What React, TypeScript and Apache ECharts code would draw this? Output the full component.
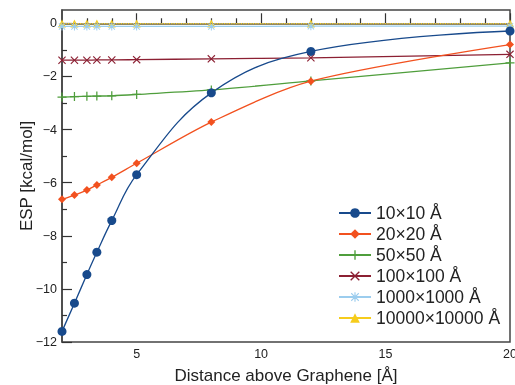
import React, { useEffect, useRef } from "react";
import * as echarts from "echarts";

const distances = [2, 2.5, 3, 3.4, 4, 5, 8, 12, 20];
const s10 = [-11.6, -10.54, -9.46, -8.62, -7.43, -5.7, -2.62, -1.06, -0.29];
const s20 = [-6.63, -6.47, -6.28, -6.09, -5.8, -5.27, -3.72, -2.18, -0.8];
const s50 = [-2.78, -2.76, -2.75, -2.74, -2.73, -2.68, -2.51, -2.17, -1.49];
const s100 = [-1.39, -1.39, -1.39, -1.38, -1.38, -1.37, -1.34, -1.3, -1.17];
const s1000 = [-0.12, -0.12, -0.12, -0.12, -0.12, -0.12, -0.12, -0.11, -0.11];
const s10000 = [-0.01, -0.01, -0.01, -0.01, -0.01, -0.01, -0.01, -0.01, -0.01];

const seriesNames = ["10×10 Å", "20×20 Å", "50×50 Å", "100×100 Å", "1000×1000 Å", "10000×10000 Å"];
const xMajorTicks = [5, 10, 15, 20];
const xMinorTicks = [3, 4, 6, 7, 8, 9, 11, 12, 13, 14, 16, 17, 18, 19];
const yMajorTicks = [-12, -10, -8, -6, -4, -2, 0];
const yMinorTicks = [-11, -9, -7, -5, -3, -1];

const FONT = "'Liberation Sans', Arial, Helvetica, sans-serif";

const PLUS = "path://M4.3,0H5.7V4.3H10V5.7H5.7V10H4.3V5.7H0V4.3H4.3Z";
const CROSS = "path://M1,0L5,4L9,0L10,1L6,5L10,9L9,10L5,6L1,10L0,9L4,5L0,1Z";
const STAR =
  "path://M4.4,0H5.6V4.4H10V5.6H5.6V10H4.4V5.6H0V4.4H4.4Z M1.5,0.7L5,4.2L8.5,0.7L9.3,1.5L5.8,5L9.3,8.5L8.5,9.3L5,5.8L1.5,9.3L0.7,8.5L4.2,5L0.7,1.5Z";

export default function App() {
  const ref = useRef<HTMLDivElement>(null);
  useEffect(() => {
    if (!ref.current) return;
    const chart = echarts.init(ref.current, undefined, { renderer: "svg" });
    const pair = (ys: number[]) => distances.map((x, i) => [x, ys[i]]);
    const fmt = (v: number) => (v < 0 ? "−" + Math.abs(v) : String(v));
    const mk = (
      name: string,
      ys: number[],
      color: string,
      symbol: string,
      symbolSize: number,
      smooth: number | boolean,
      extra: any = {}
    ) => ({
      name,
      type: "line",
      data: pair(ys),
      xAxisIndex: 0,
      yAxisIndex: 0,
      smooth,
      symbol,
      symbolSize,
      showAllSymbol: true,
      clip: true,
      lineStyle: { color, width: 1.3 },
      itemStyle: { color, borderWidth: 0 },
      ...extra,
    });
    const axisLineStyle = { color: "#444", width: 1.5 };
    const tickStyle = { color: "#333", width: 1.2 };
    const gridRect = {
      left: 62,
      right: 5,
      top: 10,
      bottom: 43,
      outerBoundsMode: "none",
      containLabel: false,
    };
    chart.setOption({
      animation: false,
      textStyle: { fontFamily: FONT },
      grid: [
        { ...gridRect, show: true, borderColor: "#444", borderWidth: 1.5, backgroundColor: "transparent" },
        { ...gridRect, show: false },
      ],
      legend: {
        orient: "vertical",
        left: 338,
        top: 204,
        itemWidth: 32,
        itemHeight: 12,
        itemGap: 3,
        padding: 0,
        textStyle: { fontSize: 17.5, color: "#222", fontFamily: FONT },
        data: seriesNames,
      },
      xAxis: [
        {
          type: "value",
          gridIndex: 0,
          min: 2,
          max: 20,
          position: "bottom",
          axisLine: { show: true, lineStyle: axisLineStyle },
          axisTick: { show: true, inside: true, length: 10, customValues: xMajorTicks, lineStyle: tickStyle },
          axisLabel: { show: true, customValues: xMajorTicks, fontSize: 12.5, color: "#222", margin: 5, formatter: fmt },
          splitLine: { show: false },
          name: "Distance above Graphene [Å]",
          nameLocation: "middle",
          nameGap: 25,
          nameMoveOverlap: false,
          nameTextStyle: { fontSize: 17, color: "#222", fontFamily: FONT },
        },
        {
          type: "value",
          gridIndex: 1,
          min: 2,
          max: 20,
          position: "bottom",
          axisLine: { show: false },
          axisTick: { show: true, inside: true, length: 5, customValues: xMinorTicks, lineStyle: tickStyle },
          axisLabel: { show: false },
          splitLine: { show: false },
        },
      ],
      yAxis: [
        {
          type: "value",
          gridIndex: 0,
          min: -12,
          max: 0.5,
          position: "left",
          axisLine: { show: true, lineStyle: axisLineStyle },
          axisTick: { show: true, inside: true, length: 10, customValues: yMajorTicks, lineStyle: tickStyle },
          axisLabel: { show: true, customValues: yMajorTicks, fontSize: 12.5, color: "#222", margin: 5, formatter: fmt },
          splitLine: { show: false },
          name: "ESP [kcal/mol]",
          nameLocation: "middle",
          nameGap: 27,
          nameMoveOverlap: false,
          nameTextStyle: { fontSize: 17, color: "#222", fontFamily: FONT },
        },
        {
          type: "value",
          gridIndex: 1,
          min: -12,
          max: 0.5,
          position: "left",
          axisLine: { show: false },
          axisTick: { show: true, inside: true, length: 5, customValues: yMinorTicks, lineStyle: tickStyle },
          axisLabel: { show: false },
          splitLine: { show: false },
        },
      ],
      series: [
        mk(seriesNames[5], s10000, "#f6cc1c", "triangle", 8, 0.3, {
          markLine: {
            silent: true,
            symbol: "none",
            label: { show: false },
            lineStyle: { type: "dotted", color: "#888", width: 1.2 },
            data: [{ yAxis: 0 }],
          },
        }),
        mk(seriesNames[4], s1000, "#9ccdee", STAR, 8, 0.3),
        mk(seriesNames[3], s100, "#8c2033", CROSS, 8, 0.3),
        mk(seriesNames[2], s50, "#4f9e3c", PLUS, 9, 0.3),
        mk(seriesNames[1], s20, "#f2511f", "diamond", 8, 0.3),
        mk(seriesNames[0], s10, "#184a8c", "circle", 9, 0.4),
      ],
    });
    return () => chart.dispose();
  }, []);
  return (
    <div
      ref={ref}
      style={{ position: "fixed", left: 0, top: 0, width: 515, height: 385 }}
    />
  );
}
